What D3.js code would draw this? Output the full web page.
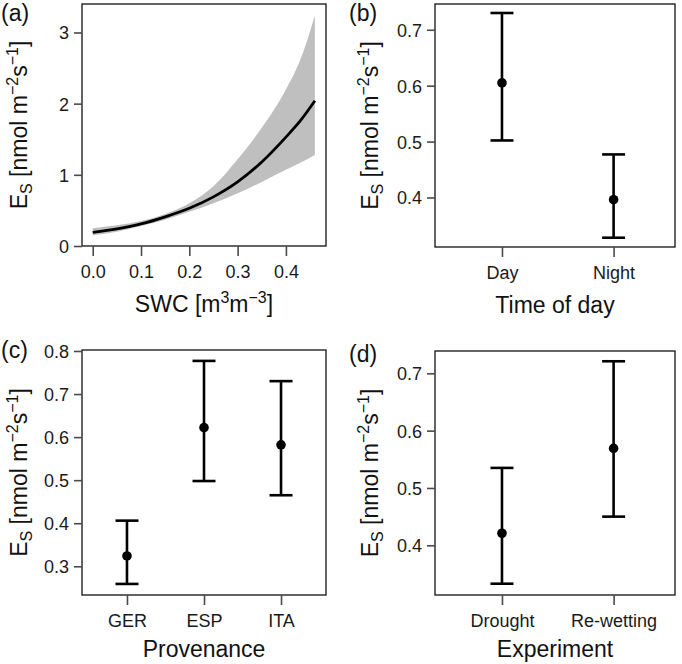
<!DOCTYPE html>
<html>
<head>
<meta charset="utf-8">
<script src="https://cdn.jsdelivr.net/npm/d3@7"></script>
<style>
  html, body { margin: 0; padding: 0; background: #fff; }
  svg { display: block; }
  text { font-family: "Liberation Sans", Arial, Helvetica, sans-serif; }
</style>
</head>
<body>
<svg id="chart" width="682" height="664"></svg>
<script>
// ---- Data ----
// Panel (a): fitted Es vs SWC with confidence band
const swc     = [0.00, 0.05, 0.10, 0.15, 0.20, 0.25, 0.30, 0.35, 0.40, 0.43, 0.46];
const esMean  = [0.19, 0.24, 0.31, 0.41, 0.53, 0.69, 0.90, 1.18, 1.53, 1.76, 2.04];
const esUpper = [0.25, 0.29, 0.35, 0.45, 0.60, 0.84, 1.22, 1.66, 2.20, 2.62, 3.24];
const esLower = [0.15, 0.20, 0.28, 0.37, 0.48, 0.60, 0.74, 0.90, 1.07, 1.17, 1.28];
const aXTicks = [0.0, 0.1, 0.2, 0.3, 0.4];
const aYTicks = [0, 1, 2, 3];

// Panel (b): time of day
const timeCats  = ["Day", "Night"];
const timeMean  = [0.605, 0.396];
const timeLower = [0.502, 0.328];
const timeUpper = [0.730, 0.477];
const bYTicks = [0.4, 0.5, 0.6, 0.7];

// Panel (c): provenance
const provCats  = ["GER", "ESP", "ITA"];
const provMean  = [0.324, 0.622, 0.582];
const provLower = [0.259, 0.498, 0.465];
const provUpper = [0.406, 0.777, 0.730];
const cYTicks = [0.3, 0.4, 0.5, 0.6, 0.7, 0.8];

// Panel (d): experiment
const expCats  = ["Drought", "Re-wetting"];
const expMean  = [0.421, 0.569];
const expLower = [0.333, 0.450];
const expUpper = [0.535, 0.721];
const dYTicks = [0.4, 0.5, 0.6, 0.7];

// ---- Drawing ----
const svg = d3.select("#chart");
const TICK_FS = 18, TITLE_FS = 23, SUB_FS = 16;
const tickColor = "#4a4a4a";

function yTitle(g, cx, cy) {
  const t = g.append("text")
    .attr("transform", `translate(${cx},${cy}) rotate(-90)`)
    .attr("text-anchor", "middle")
    .attr("font-size", TITLE_FS)
    .attr("fill", "#111");
  t.append("tspan").text("E");
  t.append("tspan").attr("font-size", SUB_FS).attr("dy", 5).text("S");
  t.append("tspan").attr("dy", -5).text(" [nmol m");
  t.append("tspan").attr("font-size", SUB_FS).attr("dy", -9).text("\u22122");
  t.append("tspan").attr("dy", 9).text("s");
  t.append("tspan").attr("font-size", SUB_FS).attr("dy", -9).text("\u22121");
  t.append("tspan").attr("dy", 9).text("]");
}

function styleAxis(sel) {
  sel.select(".domain").remove();
  sel.selectAll(".tick line").attr("stroke", tickColor).attr("stroke-width", 1.6);
  sel.selectAll(".tick text").attr("font-size", TICK_FS).attr("fill", "#1a1a1a")
    .attr("font-family", '"Liberation Sans", Arial, Helvetica, sans-serif');
}

function panel(opt) {
  const g = svg.append("g");
  const { left, right, top, bottom } = opt.box;
  const x = opt.x.range([left, right]);
  const y = d3.scaleLinear().domain(opt.yDomain).range([bottom, top]);

  opt.draw(g, x, y);

  g.append("rect")
    .attr("x", left).attr("y", top)
    .attr("width", right - left).attr("height", bottom - top)
    .attr("fill", "none").attr("stroke", "#222").attr("stroke-width", 1.4);

  const ya = g.append("g").attr("transform", `translate(${left},0)`)
    .call(d3.axisLeft(y).tickValues(opt.yTicks).tickFormat(opt.yFmt).tickSize(8).tickPadding(5));
  styleAxis(ya);
  ya.selectAll(".tick text").attr("dy", "0.36em");

  const xa = g.append("g").attr("transform", `translate(0,${bottom})`)
    .call(d3.axisBottom(x).tickValues(opt.xTicks).tickFormat(opt.xFmt).tickSize(10).tickPadding(9));
  styleAxis(xa);

  yTitle(g, opt.yTitleX, (top + bottom) / 2);
  const xt = g.append("text")
    .attr("x", (left + right) / 2).attr("y", opt.xTitleY)
    .attr("text-anchor", "middle").attr("font-size", TITLE_FS).attr("fill", "#111");
  opt.xTitle(xt);

  g.append("text").attr("x", opt.label[0]).attr("y", opt.label[1])
    .attr("font-size", TITLE_FS).attr("fill", "#111").text(opt.label[2]);
}

function errorBars(cats, mean, lower, upper) {
  return function (g, x, y) {
    const idx = d3.range(cats.length);
    const xs = i => x(i + 1);
    g.selectAll(null).data(idx).enter().append("line")
      .attr("x1", xs).attr("x2", xs)
      .attr("y1", i => y(lower[i])).attr("y2", i => y(upper[i]))
      .attr("stroke", "#000").attr("stroke-width", 2.6);
    [lower, upper].forEach(arr => {
      g.selectAll(null).data(idx).enter().append("line")
        .attr("x1", i => xs(i) - 11.5).attr("x2", i => xs(i) + 11.5)
        .attr("y1", i => y(arr[i])).attr("y2", i => y(arr[i]))
        .attr("stroke", "#000").attr("stroke-width", 2.6);
    });
    g.selectAll(null).data(idx).enter().append("circle")
      .attr("cx", xs).attr("cy", i => y(mean[i])).attr("r", 4.8).attr("fill", "#000");
  };
}

function plainTitle(s) { return t => t.text(s); }

// Panel (a)
panel({
  box: { left: 82, right: 326, top: 4, bottom: 246 },
  x: d3.scaleLinear().domain([-0.0222, 0.483]),
  yDomain: [0, 3.4],
  xTicks: aXTicks, xFmt: d3.format(".1f"),
  yTicks: aYTicks, yFmt: d3.format("d"),
  yTitleX: 27, xTitleY: 312,
  label: [1, 21, "(a)"],
  xTitle: t => {
    t.append("tspan").text("SWC [m");
    t.append("tspan").attr("font-size", SUB_FS).attr("dy", -9).text("3");
    t.append("tspan").attr("dy", 9).text("m");
    t.append("tspan").attr("font-size", SUB_FS).attr("dy", -9).text("\u22123");
    t.append("tspan").attr("dy", 9).text("]");
  },
  draw: (g, x, y) => {
    const idx = d3.range(swc.length);
    g.append("path")
      .attr("d", d3.area().curve(d3.curveMonotoneX)
        .x(i => x(swc[i])).y0(i => y(esLower[i])).y1(i => y(esUpper[i]))(idx))
      .attr("fill", "#bfbfbf");
    g.append("path")
      .attr("d", d3.line().curve(d3.curveMonotoneX)
        .x(i => x(swc[i])).y(i => y(esMean[i]))(idx))
      .attr("fill", "none").attr("stroke", "#000").attr("stroke-width", 2.8);
  }
});

// Panel (b)
panel({
  box: { left: 435, right: 675, top: 4, bottom: 247 },
  x: d3.scaleLinear().domain([0.4, 2.55]),
  yDomain: [0.3114, 0.7461],
  xTicks: [1, 2], xFmt: (d) => timeCats[d - 1],
  yTicks: bYTicks, yFmt: d3.format(".1f"),
  yTitleX: 378, xTitleY: 313,
  label: [349, 21, "(b)"],
  xTitle: plainTitle("Time of day"),
  draw: errorBars(timeCats, timeMean, timeLower, timeUpper)
});

// Panel (c)
panel({
  box: { left: 82, right: 326, top: 350, bottom: 595 },
  x: d3.scaleLinear().domain([0.416, 3.584]),
  yDomain: [0.2333, 0.8023],
  xTicks: [1, 2, 3], xFmt: (d) => provCats[d - 1],
  yTicks: cYTicks, yFmt: d3.format(".1f"),
  yTitleX: 27, xTitleY: 657,
  label: [1, 358, "(c)"],
  xTitle: plainTitle("Provenance"),
  draw: errorBars(provCats, provMean, provLower, provUpper)
});

// Panel (d)
panel({
  box: { left: 435, right: 675, top: 351, bottom: 595 },
  x: d3.scaleLinear().domain([0.4, 2.55]),
  yDomain: [0.3133, 0.7389],
  xTicks: [1, 2], xFmt: (d) => expCats[d - 1],
  yTicks: dYTicks, yFmt: d3.format(".1f"),
  yTitleX: 378, xTitleY: 657,
  label: [349, 362, "(d)"],
  xTitle: plainTitle("Experiment"),
  draw: errorBars(expCats, expMean, expLower, expUpper)
});
</script>
</body>
</html>
